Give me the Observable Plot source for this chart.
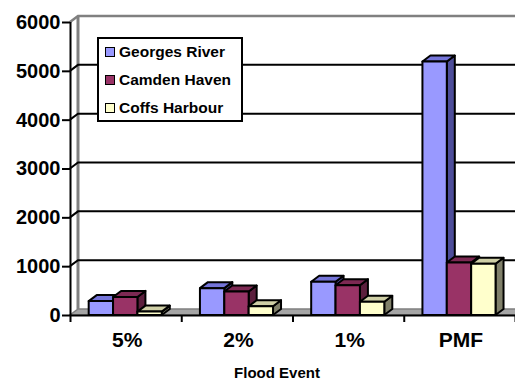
<!DOCTYPE html>
<html><head><meta charset="utf-8">
<script src="https://cdn.jsdelivr.net/npm/d3@7"></script>
<script src="https://cdn.jsdelivr.net/npm/@observablehq/plot@0.6"></script>
<style>
html,body{margin:0;padding:0;background:#fff;overflow:hidden;}
#wrap{position:relative;width:515px;height:381px;font-family:"Liberation Sans",Arial,sans-serif;font-weight:bold;}
#legend{position:absolute;left:97px;top:37px;width:142px;height:81px;border:2px solid #000;background:#fff;}
.item{position:absolute;left:6px;height:16px;display:flex;align-items:center;font-size:15.5px;white-space:nowrap;}
.sw{width:8px;height:8px;border:1.5px solid #000;margin-right:4px;}
</style></head><body><div id="wrap"></div><script>
const categories = ["5%", "2%", "1%", "PMF"];
const seriesNames = ["Georges River", "Camden Haven", "Coffs Harbour"];
const georgesRiver = [285, 550, 680, 5190];
const camdenHaven = [370, 480, 610, 1075];
const coffsHarbour = [70, 180, 270, 1050];
const yTicks = [0, 1000, 2000, 3000, 4000, 5000, 6000];
const xTitle = "Flood Event";

const frontColors = ["#9999FF", "#993366", "#FFFFCC"];
const topColors = ["#7575D9", "#7D2953", "#CFCFA6"];
const sideColors = ["#4D4D99", "#5C1F3D", "#80806A"];

const seriesValues = [georgesRiver, camdenHaven, coffsHarbour];
const rows = [];
categories.forEach((c, ci) => seriesNames.forEach((s, si) =>
  rows.push({category: c, ci, series: s, si, value: seriesValues[si][ci]})));

const BAR_OFFSET = 0.168, BAR_WIDTH = 0.219; // fraction of a category band
const DX = 8, DY = 6; // 3-D depth in px
const N = categories.length;
const font = "'Liberation Sans', Arial, sans-serif";

const plot = Plot.plot({
  width: 515, height: 381,
  marginLeft: 70, marginRight: 0, marginTop: 22, marginBottom: 66,
  x: {type: "linear", domain: [0, N], axis: null},
  y: {domain: [0, 6000], axis: null},
  style: {fontFamily: font, fontWeight: "bold", color: "#000", background: "transparent", overflow: "visible"},
  marks: [
    Plot.axisY({ticks: yTicks, tickSize: 8, tickPadding: 2, fontSize: 20, tickFormat: d => String(d), strokeWidth: 2, stroke: "#000", fill: "#000"}),
    Plot.ruleX([0], {y1: 0, y2: 6000, stroke: "#000", strokeWidth: 2}),
    Plot.axisX({ticks: d3.range(0, N + 1), tickSize: 7, tickFormat: () => "", strokeWidth: 2, stroke: "#000"}),
    Plot.ruleY([0], {x1: 0, x2: N, stroke: "#000", strokeWidth: 2}),
    Plot.text(categories, {x: (d, i) => i + 0.5, y: 0, dy: 25, dx: 1, text: d => d, fontSize: 21, fill: "#000"}),
    Plot.text([xTitle], {x: N / 2, y: 0, dy: 58, dx: -16, text: d => d, fontSize: 15, fill: "#000"})
  ]
});

const xs = plot.scale("x").apply, ys = plot.scale("y").apply;
const svg = d3.select(plot);
const g = svg.insert("g", ":first-child");
const pts = a => a.map(p => p.join(",")).join(" ");
const x0 = xs(0), xN = xs(N), yTop = ys(6000), y0 = ys(0);

// floor
g.append("polygon").attr("points", pts([[x0, y0], [xN, y0], [xN + DX, y0 - DY], [x0 + DX, y0 - DY]]))
  .attr("fill", "#A6A6A6").attr("stroke", "#808080").attr("stroke-width", 1.5);
// wall edges
g.append("path").attr("d", `M${x0},${yTop}L${x0 + DX},${yTop - DY}L${xN + DX},${yTop - DY}`)
  .attr("fill", "none").attr("stroke", "#808080").attr("stroke-width", 2.5);
g.append("line").attr("x1", x0 + DX).attr("x2", x0 + DX).attr("y1", yTop - DY).attr("y2", y0 - DY)
  .attr("stroke", "#808080").attr("stroke-width", 3);
// gridlines
yTicks.filter(v => v > 0 && v < 6000).forEach(v => {
  g.append("path").attr("d", `M${x0},${ys(v)}L${x0 + DX},${ys(v) - DY}L${xN + DX},${ys(v) - DY}`)
    .attr("fill", "none").attr("stroke", "#000").attr("stroke-width", 2);
});
// bars
rows.forEach(r => {
  const x1 = xs(r.ci + BAR_OFFSET + r.si * BAR_WIDTH), x2 = xs(r.ci + BAR_OFFSET + (r.si + 1) * BAR_WIDTH);
  const yt = ys(r.value), yb = ys(0);
  const bg = g.append("g").attr("stroke", "#000").attr("stroke-width", 2).attr("stroke-linejoin", "round");
  bg.append("polygon").attr("points", pts([[x2, yt], [x2 + DX, yt - DY], [x2 + DX, yb - DY], [x2, yb]])).attr("fill", sideColors[r.si]);
  bg.append("polygon").attr("points", pts([[x1, yt], [x2, yt], [x2 + DX, yt - DY], [x1 + DX, yt - DY]])).attr("fill", topColors[r.si]);
  bg.append("rect").attr("x", x1).attr("y", yt).attr("width", x2 - x1).attr("height", yb - yt).attr("fill", frontColors[r.si]);
});

const wrap = document.getElementById("wrap");
wrap.appendChild(plot);
const legend = document.createElement("div");
legend.id = "legend";
seriesNames.forEach((s, i) => {
  const it = document.createElement("div");
  it.className = "item";
  it.style.top = (5 + i * 28) + "px";
  const sw = document.createElement("div");
  sw.className = "sw";
  sw.style.background = frontColors[i];
  it.appendChild(sw);
  it.appendChild(document.createTextNode(s));
  legend.appendChild(it);
});
wrap.appendChild(legend);
</script></body></html>
